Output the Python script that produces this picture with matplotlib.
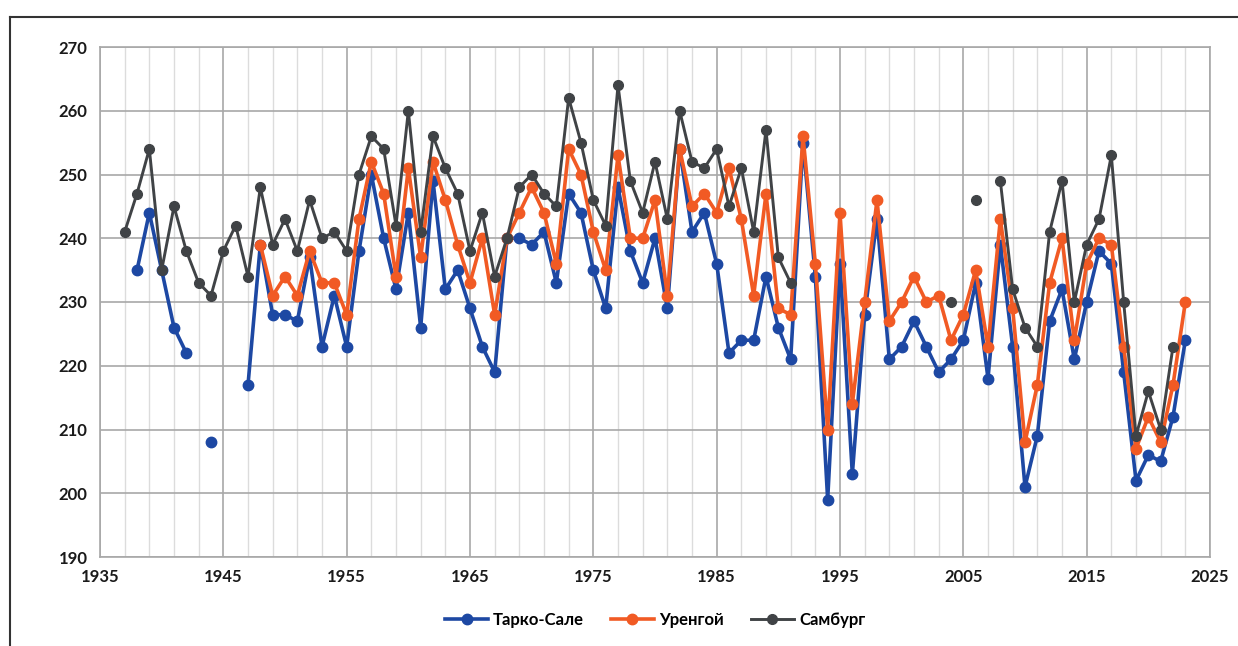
import numpy as np
import matplotlib
matplotlib.use("Agg")
import matplotlib.pyplot as plt
from matplotlib.lines import Line2D

nan = np.nan

years = list(range(1937, 2024))

tarko_sale = [
    nan, 235, 244, 235, 226, 222, nan, 208, nan, nan,            # 1937-1946
    217, 239, 228, 228, 227, 237, 223, 231, 223, 238,            # 1947-1956
    250, 240, 232, 244, 226, 249, 232, 235, 229, 223,            # 1957-1966
    219, 240, 240, 239, 241, 233, 247, 244, 235, 229,            # 1967-1976
    248, 238, 233, 240, 229, 254, 241, 244, 236, 222,            # 1977-1986
    224, 224, 234, 226, 221, 255, 234, 199, 236, 203,            # 1987-1996
    228, 243, 221, 223, 227, 223, 219, 221, 224, 233,            # 1997-2006
    218, 239, 223, 201, 209, 227, 232, 221, 230, 238,            # 2007-2016
    236, 219, 202, 206, 205, 212, 224,                           # 2017-2023
]

urengoy = [
    nan, nan, nan, nan, nan, nan, nan, nan, nan, nan,            # 1937-1946
    nan, 239, 231, 234, 231, 238, 233, 233, 228, 243,            # 1947-1956
    252, 247, 234, 251, 237, 252, 246, 239, 233, 240,            # 1957-1966
    228, 240, 244, 248, 244, 236, 254, 250, 241, 235,            # 1967-1976
    253, 240, 240, 246, 231, 254, 245, 247, 244, 251,            # 1977-1986
    243, 231, 247, 229, 228, 256, 236, 210, 244, 214,            # 1987-1996
    230, 246, 227, 230, 234, 230, 231, 224, 228, 235,            # 1997-2006
    223, 243, 229, 208, 217, 233, 240, 224, 236, 240,            # 2007-2016
    239, 223, 207, 212, 208, 217, 230,                           # 2017-2023
]

samburg = [
    241, 247, 254, 235, 245, 238, 233, 231, 238, 242,            # 1937-1946
    234, 248, 239, 243, 238, 246, 240, 241, 238, 250,            # 1947-1956
    256, 254, 242, 260, 241, 256, 251, 247, 238, 244,            # 1957-1966
    234, 240, 248, 250, 247, 245, 262, 255, 246, 242,            # 1967-1976
    264, 249, 244, 252, 243, 260, 252, 251, 254, 245,            # 1977-1986
    251, 241, 257, 237, 233, nan, nan, nan, nan, nan,            # 1987-1996
    nan, nan, nan, nan, nan, nan, nan, 230, nan, 246,            # 1997-2006
    nan, 249, 232, 226, 223, 241, 249, 230, 239, 243,            # 2007-2016
    253, 230, 209, 216, 210, 223, nan,                           # 2017-2023
]

series = [
    ("Тарко-Сале", tarko_sale, "#1d48a3", 2.6, 7.5),
    ("Уренгой", urengoy, "#f15a24", 2.6, 7.5),
    ("Самбург", samburg, "#404346", 2.1, 7.0),
]

plt.rcParams['font.family'] = ['Lato', 'DejaVu Sans']

fig = plt.figure(figsize=(12.38, 6.46), dpi=100)
ax = fig.add_axes([100 / 1238, 1 - 557 / 646, 1110 / 1238, 510 / 646])

for name, vals, col, lw, ms in series:
    ax.plot(years, vals, color=col, lw=lw, marker="o", ms=ms,
            mfc=col, mec=col, label=name)

ax.set_xlim(1935, 2025)
ax.set_ylim(190, 270)
ax.set_xticks(range(1935, 2026, 10))
ax.set_xticks(range(1935, 2026, 2), minor=True)
ax.set_yticks(range(190, 271, 10))
ax.tick_params(axis="both", which="both", length=0, labelsize=12, pad=9)
for lab in ax.get_xticklabels() + ax.get_yticklabels():
    lab.set_fontweight("bold")
    lab.set_color("#1a1a1a")

ax.grid(axis="x", which="minor", color="#dcdcdc", lw=1.0)
ax.grid(axis="x", which="major", color="#a8a8a8", lw=1.2)
ax.grid(axis="y", which="major", color="#a8a8a8", lw=1.2)
ax.set_axisbelow(True)
for sp in ax.spines.values():
    sp.set_color("#a8a8a8")
    sp.set_linewidth(1.2)

leg = fig.legend(loc="center", bbox_to_anchor=(655 / 1238, 1 - 620 / 646),
                 ncol=3, frameon=False, handlelength=2.6, columnspacing=1.6,
                 handletextpad=0.3, prop={"weight": "bold", "size": 12})

# outer frame (top and left edges visible in the reference)
fig.add_artist(Line2D([10 / 1238, 1.0], [1 - 17 / 646, 1 - 17 / 646],
                      transform=fig.transFigure, color="#333333", lw=1.5))
fig.add_artist(Line2D([10 / 1238, 10 / 1238], [0.0, 1 - 17 / 646],
                      transform=fig.transFigure, color="#333333", lw=1.5))

fig.savefig("out.png", dpi=100)
